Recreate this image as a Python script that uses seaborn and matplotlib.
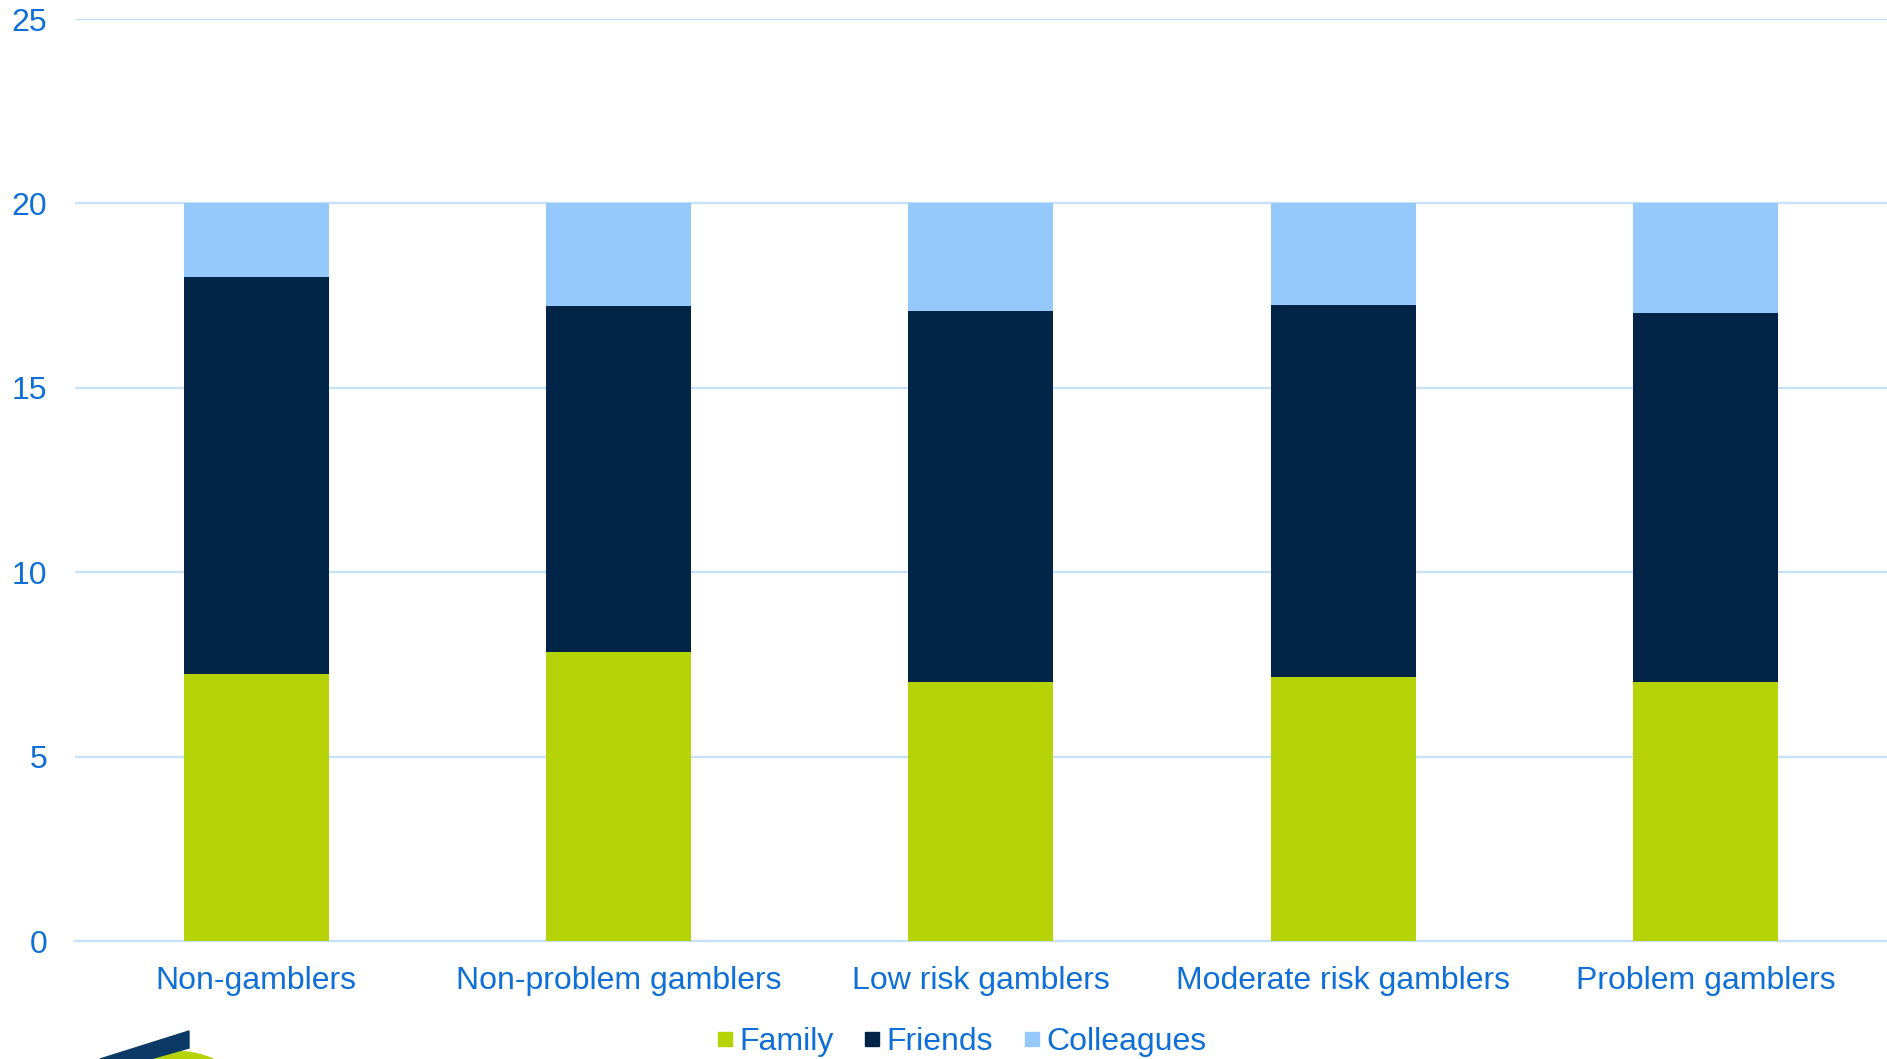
import numpy as np
import pandas as pd
import matplotlib
matplotlib.use('Agg')
import matplotlib.pyplot as plt
import seaborn as sns
from matplotlib.lines import Line2D
from matplotlib.patches import Polygon, Ellipse

groups = ['Non-gamblers', 'Non-problem gamblers', 'Low risk gamblers',
          'Moderate risk gamblers', 'Problem gamblers']
family = [7.25, 7.84, 7.03, 7.16, 7.03]
friends = [10.75, 9.38, 10.06, 10.09, 10.00]
colleagues = [2.00, 2.78, 2.91, 2.75, 2.97]

series = ['Family', 'Friends', 'Colleagues']
colors = {'Family': '#B5D306', 'Friends': '#022447', 'Colleagues': '#95C8FB'}
text_blue = '#0E6FD6'
grid_blue = '#C6E0F8'

df = pd.DataFrame({'group': groups, 'Family': family,
                   'Friends': friends, 'Colleagues': colleagues})
# cumulative heights for stacking
df['cum_Family'] = df['Family']
df['cum_Friends'] = df['cum_Family'] + df['Friends']
df['cum_Colleagues'] = df['cum_Friends'] + df['Colleagues']

sns.set_style('white')
plt.rcParams['font.family'] = ['Liberation Sans', 'DejaVu Sans']

fig = plt.figure(figsize=(18.87, 10.59), dpi=100)
ax = fig.add_axes([0.0397, 0.1114, 0.9603, 0.8706])

# draw from the top layer down so lower segments overlay
for s in reversed(series):
    sns.barplot(data=df, x='group', y='cum_' + s, color=colors[s],
                width=0.4, saturation=1, ax=ax, zorder=3,
                edgecolor='none', linewidth=0)

ax.set_ylim(0, 25)
ax.set_xlim(-0.5, 4.5)
ax.set_yticks(range(0, 26, 5))
ax.yaxis.grid(True, color=grid_blue, linewidth=1.6, zorder=0)
ax.set_axisbelow(True)
for side in ['left', 'right', 'top']:
    ax.spines[side].set_visible(False)
ax.spines['bottom'].set_color(grid_blue)
ax.spines['bottom'].set_linewidth(1.6)
ax.tick_params(axis='both', length=0, labelsize=23, labelcolor=text_blue)
ax.tick_params(axis='y', pad=20)
ax.tick_params(axis='x', pad=18)
ax.set_xlabel('')
ax.set_ylabel('')

handles = [Line2D([0], [0], marker='s', linestyle='none', markersize=10.5,
                  markerfacecolor=colors[s], markeredgecolor=colors[s])
           for s in series]
leg = fig.legend(handles, series, loc='center', bbox_to_anchor=(0.508, 0.016),
                 ncol=3, frameon=False, fontsize=23, handletextpad=0.0,
                 columnspacing=0.75, handlelength=0.9)
for t in leg.get_texts():
    t.set_color(text_blue)

# partial logo at the bottom left corner
W, H = 1887, 1059
fig.patches.append(Ellipse((172 / W, -22 / H), 120 / W, 60 / H,
                           transform=fig.transFigure, color='#B5D306', zorder=1))
fig.patches.append(Polygon([(100 / W, 0.0), (189 / W, 1 - 1031 / H), (189 / W, 1 - 1048 / H),
                            (150 / W, 0.0)], closed=True,
                           transform=fig.transFigure, color='#0B3A66', zorder=2))

fig.savefig('out.png', dpi=100)
